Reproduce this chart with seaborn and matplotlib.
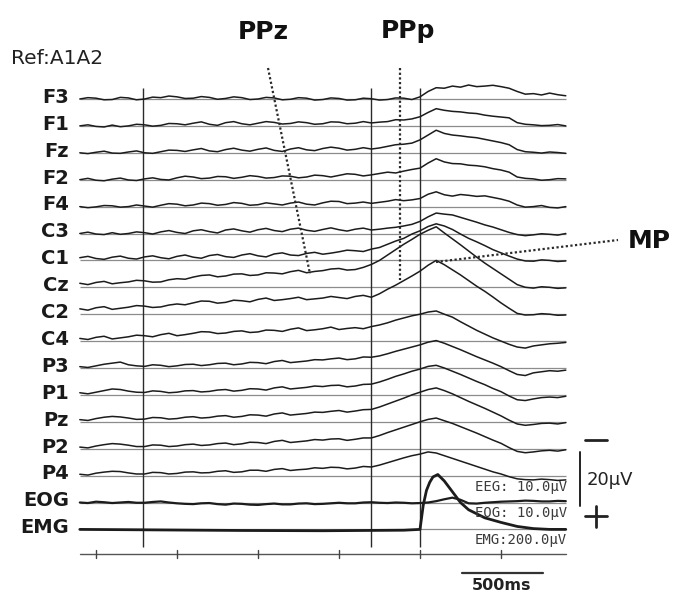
import matplotlib
matplotlib.use("Agg")
import matplotlib.pyplot as plt
import seaborn as sns
import pandas as pd

# ---------------- data (µV, negative drawn upward) ----------------
times = [-2100, -2050, -2000, -1950, -1900, -1850, -1800, -1750, -1700, -1650,
         -1600, -1550, -1500, -1450, -1400, -1350, -1300, -1250, -1200, -1150,
         -1100, -1050, -1000, -950, -900, -850, -800, -750, -700, -650,
         -600, -550, -500, -450, -400, -350, -300, -250, -200, -150,
         -100, -50, 0, 50, 100, 150, 200, 250, 300, 350,
         400, 450, 500, 550, 600, 650, 700, 750, 800, 850,
         900]

channels = ["F3", "F1", "Fz", "F2", "F4", "C3", "C1", "Cz", "C2", "C4",
            "P3", "P1", "Pz", "P2", "P4", "EOG", "EMG"]

F3 = [0, -0.5, -0.3, 0.3, 0.2, -0.6, -0.4, 0.3, 0, -0.7,
      -0.5, -1.1, -0.8, -0.2, -0.3, -0.9, -0.6, 0.1, -0.2, -0.8,
      -0.5, 0.2, 0, -0.6, -0.4, 0.3, 0.1, -0.5, -0.3, 0.4,
      0.2, -0.4, -0.2, 0.4, 0.3, -0.3, -0.1, 0.4, 0.2, -0.4,
      -0.3, 0.2, -0.8, -2.8, -4.2, -4.0, -4.8, -4.4, -5.2, -4.6,
      -4.8, -5.1, -4.6, -4.0, -2.8, -1.8, -2.0, -1.5, -2.2, -1.6,
      -1.2]
F1 = [0, -0.4, 0.2, 0.4, -0.3, 0.3, 0, -0.6, -0.4, 0.1,
      -0.2, -0.9, -0.8, -0.4, -1.0, -1.5, -0.6, -0.2, -1.2, -1.6,
      -0.8, -0.4, -1.0, -1.6, -1.3, -0.7, -0.9, -1.5, -1.2, -0.6,
      -0.8, -1.5, -1.4, -0.8, -1.0, -1.6, -1.1, -1.4, -1.6, -2.3,
      -2.2, -2.6, -3.4, -5.0, -6.4, -5.8, -5.4, -5.2, -4.8, -4.6,
      -4.0, -3.6, -3.3, -3.0, -1.2, -0.6, -0.4, -0.1, -0.2, -0.5,
      0]
Fz = [0, 0.3, -0.2, -0.6, 0.1, 0.2, -0.3, -0.7, 0, 0.2,
      -0.4, -1.0, -0.9, -0.5, -1.1, -1.6, -0.7, -0.4, -1.2, -1.7,
      -1.0, -0.6, -1.3, -1.8, -0.9, -0.5, -1.4, -1.9, -1.1, -0.8,
      -1.6, -2.1, -1.7, -1.0, -1.3, -1.9, -1.4, -1.8, -2.4, -3.0,
      -3.2, -3.6, -4.8, -6.6, -8.4, -7.2, -6.6, -6.3, -5.9, -5.6,
      -5.0, -4.4, -3.8, -3.0, -1.2, -0.4, -0.2, 0.1, -0.3, -0.1,
      0.2]
F2 = [0, -0.5, 0.2, 0.4, -0.2, -0.6, 0.1, 0.3, -0.3, -0.7,
      -0.1, 0.1, -0.7, -1.3, -1.0, -0.4, -0.6, -1.2, -1.1, -0.5,
      -0.9, -1.5, -1.2, -0.6, -0.8, -1.4, -1.3, -0.7, -1.0, -1.7,
      -1.5, -1.0, -1.6, -2.2, -2.0, -1.4, -1.8, -2.3, -2.8, -2.5,
      -3.2, -3.8, -4.3, -6.2, -7.8, -6.6, -6.0, -5.9, -5.4, -5.2,
      -4.8, -4.1, -3.6, -2.8, -1.0, -0.5, -0.3, 0.2, 0, -0.4,
      -0.3]
F4 = [0, 0.4, 0.1, -0.4, -0.3, 0.2, 0, -0.6, -0.2, 0.2,
      -0.5, -1.1, -0.9, -0.3, -0.6, -1.3, -1.1, -0.5, -0.8, -1.5,
      -1.2, -0.5, -0.7, -1.4, -1.0, -0.6, -1.3, -1.7, -0.9, -0.6,
      -1.4, -2.0, -1.9, -1.1, -1.3, -1.7, -1.2, -1.6, -2.0, -2.6,
      -2.2, -2.5, -3.0, -4.6, -5.5, -4.4, -3.9, -4.5, -4.2, -3.8,
      -4.0, -3.4, -2.8, -2.0, -0.6, 0.2, 0, -0.4, 0.3, 0.5,
      0]
C3 = [0, -0.5, 0.2, 0.4, -0.3, 0.3, 0, -0.6, -0.3, 0.2,
      -0.6, -1.1, -0.4, 0, -1.0, -1.4, -0.7, -0.2, -1.3, -1.7,
      -1.0, -0.5, -1.4, -1.9, -1.1, -0.7, -1.6, -2.0, -1.2, -0.8,
      -1.5, -2.1, -1.4, -0.9, -1.6, -2.0, -1.3, -1.6, -2.0, -2.3,
      -2.8, -3.4, -4.5, -6.2, -7.6, -7.2, -6.9, -6.0, -5.1, -4.2,
      -3.2, -2.4, -1.4, -0.4, 0.4, 0.8, 0.5, 0.1, 0.3, 0.6,
      0]
C1 = [-1.0, -1.5, -0.7, -0.4, -1.2, -1.6, -0.8, -0.5, -1.3, -1.7,
      -1.0, -0.6, -1.5, -2.0, -1.2, -0.8, -1.8, -2.2, -1.4, -1.1,
      -2.0, -2.5, -1.7, -1.3, -2.4, -2.8, -2.0, -1.8, -2.6, -3.0,
      -2.3, -2.7, -3.2, -3.8, -3.6, -3.3, -4.2, -4.8, -6.0, -7.2,
      -8.2, -9.8, -11.0, -12.6, -13.6, -12.8, -11.5, -9.8, -8.2, -6.9,
      -5.5, -4.0, -2.8, -1.6, -0.5, 0.2, 0.3, -0.2, 0, 0.4,
      0.2]
Cz = [-1.5, -1.0, -1.8, -2.2, -1.3, -1.7, -2.0, -2.6, -2.4, -1.9,
      -2.0, -2.8, -3.2, -3.0, -3.8, -4.4, -4.6, -3.9, -4.2, -4.9,
      -5.0, -4.4, -4.6, -5.4, -5.3, -5.0, -5.8, -6.3, -5.4, -5.9,
      -6.2, -6.8, -7.0, -6.4, -6.6, -7.4, -8.5, -10.0, -12.0, -14.0,
      -16.0, -17.8, -19.7, -21.2, -22.5, -20.2, -18.0, -15.8, -13.5, -11.2,
      -9.0, -7.0, -5.0, -3.0, -1.0, 0, 0.3, -0.2, 0, 0.4,
      0.2]
C2 = [-2.0, -1.5, -2.4, -2.8, -1.8, -2.2, -2.6, -3.2, -3.0, -2.5,
      -2.7, -3.4, -3.8, -3.5, -4.2, -4.9, -4.8, -4.1, -4.4, -5.2,
      -5.0, -4.6, -5.5, -6.0, -5.1, -5.4, -5.8, -6.3, -5.4, -5.7,
      -6.0, -6.6, -6.2, -5.8, -6.6, -7.0, -6.3, -7.6, -9.3, -10.8,
      -12.5, -14.2, -16.0, -18.2, -20.0, -18.4, -16.5, -14.6, -12.5, -10.4,
      -8.5, -6.4, -4.2, -2.2, -0.3, 0.3, 0.2, -0.2, 0, 0.4,
      0.3]
C4 = [-1.0, -0.6, -1.4, -1.8, -0.8, -1.2, -1.6, -2.2, -2.0, -1.6,
      -2.4, -2.9, -2.0, -2.4, -2.9, -3.5, -3.4, -2.8, -3.0, -3.6,
      -3.8, -3.2, -3.4, -4.1, -4.0, -3.6, -4.4, -4.9, -3.9, -4.2,
      -4.6, -5.2, -4.3, -4.7, -5.0, -4.6, -5.4, -6.0, -6.8, -7.8,
      -8.6, -9.4, -10.0, -10.8, -11.2, -10.0, -8.9, -7.2, -5.6, -4.0,
      -2.6, -1.2, 0, 1.2, 2.2, 2.6, 1.8, 1.4, 1.0, 0.8,
      0.5]
P3 = [-0.5, -0.2, -0.8, -1.4, -1.8, -2.2, -1.2, -0.8, -0.6, -1.2,
      -1.0, -0.5, -0.8, -1.3, -1.4, -0.9, -1.2, -1.7, -1.8, -1.2,
      -1.5, -2.1, -2.0, -1.6, -2.4, -2.8, -2.0, -2.3, -2.6, -3.1,
      -3.0, -3.4, -3.7, -3.1, -3.4, -4.1, -4.0, -4.5, -5.3, -6.2,
      -7.0, -7.8, -8.6, -9.6, -10.2, -9.2, -8.0, -6.8, -5.5, -4.2,
      -3.0, -1.8, -0.5, 1.0, 2.4, 2.8, 1.8, 1.4, 1.0, 1.2,
      0.8]
P1 = [-0.8, -0.4, -1.0, -1.6, -2.2, -2.0, -1.4, -1.0, -0.9, -1.5,
      -1.3, -0.8, -1.0, -1.5, -1.6, -1.1, -1.3, -1.8, -2.0, -1.4,
      -1.7, -2.3, -2.2, -1.8, -2.6, -3.0, -2.2, -2.5, -2.8, -3.3,
      -3.1, -3.5, -3.6, -3.0, -3.3, -3.9, -4.0, -4.8, -5.8, -6.9,
      -7.8, -8.8, -9.6, -10.6, -11.0, -10.0, -8.8, -7.6, -6.3, -5.0,
      -3.8, -2.4, -1.2, 0.4, 1.8, 2.1, 1.5, 1.0, 0.8, 1.0,
      0.5]
Pz = [-0.8, -0.5, -1.2, -1.7, -2.0, -1.8, -1.4, -0.9, -1.0, -1.6,
      -1.5, -1.0, -1.2, -1.7, -1.9, -1.4, -1.6, -2.1, -2.3, -1.7,
      -2.0, -2.6, -2.5, -2.1, -2.9, -3.3, -2.5, -2.8, -3.1, -3.6,
      -3.5, -3.9, -4.2, -3.6, -4.0, -4.5, -4.6, -5.5, -6.6, -7.7,
      -8.8, -10.0, -11.0, -12.0, -12.6, -11.6, -10.4, -9.0, -7.6, -6.3,
      -5.0, -3.6, -2.2, -0.6, 0.8, 1.3, 1.0, 0.6, 0.5, 0.8,
      0.3]
P2 = [-0.6, -0.3, -1.0, -1.5, -1.9, -1.7, -1.3, -0.8, -0.8, -1.4,
      -1.3, -0.8, -1.0, -1.5, -1.7, -1.2, -1.4, -1.9, -2.1, -1.5,
      -1.8, -2.4, -2.3, -1.9, -2.7, -3.1, -2.3, -2.6, -2.9, -3.4,
      -3.2, -3.6, -3.7, -3.1, -3.5, -4.0, -4.0, -4.9, -6.0, -7.0,
      -8.0, -9.0, -10.0, -10.9, -11.4, -10.4, -9.4, -8.2, -7.0, -5.8,
      -4.5, -3.2, -2.0, -0.4, 1.0, 1.5, 1.2, 0.8, 0.6, 0.9,
      0.4]
P4 = [-0.5, -0.2, -0.9, -1.3, -1.6, -1.5, -1.0, -0.6, -0.6, -1.2,
      -1.1, -0.6, -0.8, -1.3, -1.4, -1.0, -1.1, -1.6, -1.8, -1.2,
      -1.4, -2.0, -2.0, -1.6, -2.3, -2.6, -1.9, -2.2, -2.4, -2.9,
      -2.7, -3.1, -3.0, -2.5, -2.8, -3.4, -3.2, -3.9, -4.8, -5.7,
      -6.6, -7.4, -8.0, -8.8, -8.4, -7.4, -6.4, -5.4, -4.4, -3.4,
      -2.4, -1.4, -0.6, 0.4, 1.2, 1.5, 1.6, 1.3, 1.5, 1.8,
      1.6]
EOG = [0, 0.2, -0.3, -0.1, 0.2, 0, -0.2, 0.1, 0.1, -0.2,
       -0.4, 0, 0.3, 0.5, 0.6, 0.3, 0.2, 0.6, 0.8, 0.4,
       0.5, 0.8, 0.9, 0.6, 0.4, 0.7, 0.7, 0.4, 0.3, 0.6,
       0.5, 0.3, 0.1, 0.3, 0.3, 0.0, -0.1, 0.1, 0.2, 0.0,
       0.1, 0.3, 0.2, 0.0, -0.5, -1.2, -1.8, -1.0, 0.3, 0.4,
       0.1, -0.1, -0.3, -0.4, -0.5, -0.7, -0.6, -0.4, -0.4, -0.6,
       -0.5]
emg_times = [-2100, -1600, -1100, -600, -100, 0, 20, 40, 60, 80, 110, 150,
             200, 250, 300, 400, 500, 600, 700, 800, 900]
EMG = [0, 0.2, 0.4, 0.5, 0.3, 0, -9, -14.5, -17.5, -19.5, -20.4, -18,
       -14, -10, -7.3, -4.3, -2.6, -1.1, -0.3, 0, 0]

event_lines = [-1710, -300, 0]       # solid vertical markers (ms)
ppp_time = -123                      # PPp dotted marker (ms)
axis_ticks = [-2000, -1500, -1000, -500, 0, 500]
gain_labels = ["EEG: 10.0µV", "EOG: 10.0µV", "EMG:200.0µV"]

SP = 10.0   # channel spacing, µV

# ---------------- pixel <-> data helpers ----------------
X0, XS = 420.0, 0.162     # px at t=0, px per ms
Y0, YS = 99.0, 2.69       # px of first baseline, px per µV
def tx(px): return (px - X0) / XS
def ty(py): return (py - Y0) / YS

sns.set_theme(style="white")
plt.rcParams["font.family"] = ["DejaVu Sans"]

fig = plt.figure(figsize=(6.74, 5.96), dpi=100)
ax = fig.add_axes([0, 0, 1, 1])

INK = "#1c1c1c"

eeg_series = [F3, F1, Fz, F2, F4, C3, C1, Cz, C2, C4, P3, P1, Pz, P2, P4]
rows = []
for i, vals in enumerate(eeg_series):
    for t, v in zip(times, vals):
        rows.append({"ch": channels[i], "t": t, "y": i * SP + v})
df_eeg = pd.DataFrame(rows)
df_eog = pd.DataFrame({"ch": "EOG", "t": times, "y": [15 * SP + v for v in EOG]})
df_emg = pd.DataFrame({"ch": "EMG", "t": emg_times, "y": [16 * SP + v for v in EMG]})

# baselines
for i in range(len(channels)):
    ax.hlines(i * SP, times[0], times[-1], color="#8c8c8c", lw=0.9, zorder=1)

sns.lineplot(data=df_eeg, x="t", y="y", units="ch", estimator=None, sort=False,
             color=INK, lw=1.1, ax=ax, legend=False, zorder=3)
sns.lineplot(data=df_eog, x="t", y="y", estimator=None, sort=False,
             color=INK, lw=1.6, ax=ax, legend=False, zorder=3)
sns.lineplot(data=df_emg, x="t", y="y", estimator=None, sort=False,
             color=INK, lw=2.0, ax=ax, legend=False, zorder=3)

# vertical event lines
for t in event_lines:
    ax.vlines(t, ty(88), ty(547), color="#2a2a2a", lw=1.0, zorder=2)
dots = (0, (1, 1.1))
ax.plot([ppp_time, ppp_time], [ty(68), ty(280)], color="#2a2a2a", lw=1.6, ls=dots, zorder=4)
ax.plot([tx(268), tx(310)], [ty(68), ty(274)], color="#2a2a2a", lw=1.6, ls=dots, zorder=4)
ax.plot([tx(436), tx(618)], [ty(262), ty(240)], color="#2a2a2a", lw=1.6, ls=dots, zorder=4)

# time axis with ticks
ax.plot([times[0], times[-1]], [ty(554), ty(554)], color="#555555", lw=1.0)
for t in axis_ticks:
    ax.plot([t, t], [ty(550), ty(558)], color="#444444", lw=1.0)

# 500 ms scale bar
ax.plot([260, 760], [ty(573), ty(573)], color="#333333", lw=1.6)
ax.text(505, ty(585), "500ms", ha="center", va="center", fontsize=11.5,
        fontweight="bold", color="#222222")

# 20 µV scale bar (negative up)
ax.plot([tx(580), tx(580)], [ty(452), ty(452) + 20], color="#222222", lw=1.4)
ax.plot([tx(585), tx(607)], [ty(440), ty(440)], color="#222222", lw=2.0)
ax.plot([tx(585), tx(607)], [ty(516), ty(516)], color="#222222", lw=2.0)
ax.plot([tx(596), tx(596)], [ty(506), ty(527)], color="#222222", lw=2.0)
ax.text(tx(587), ty(480), "20µV", ha="left", va="center", fontsize=13, color="#222222")

# gain labels
for k, s in enumerate(gain_labels):
    ax.text(tx(567), ty(487 + 26.5 * k), s, ha="right", va="center", fontsize=10,
            family="DejaVu Sans Mono", color="#3a3a3a", zorder=5)

# channel labels
for i, name in enumerate(channels):
    ax.text(tx(69), i * SP - 0.6, name, ha="right", va="center", fontsize=14,
            fontweight="bold", color="#1a1a1a")

ax.text(tx(11), ty(58), "Ref:A1A2", ha="left", va="center", fontsize=14.5, color="#222222")
ax.text(tx(263), ty(32), "PPz", ha="center", va="center", fontsize=18, fontweight="bold", color="#111111")
ax.text(tx(408), ty(31), "PPp", ha="center", va="center", fontsize=18, fontweight="bold", color="#111111")
ax.text(tx(649), ty(241), "MP", ha="center", va="center", fontsize=18, fontweight="bold", color="#111111")

ax.set_xlim(tx(0), tx(674))
ax.set_ylim(ty(596), ty(0))
ax.set_axis_off()

fig.savefig("out.png", dpi=100)
